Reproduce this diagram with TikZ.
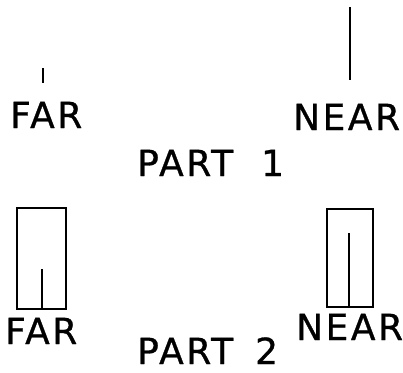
\documentclass[tikz,border=0pt]{standalone}
\usepackage{fontspec}
\setmainfont{DejaVu Sans}[LetterSpace=7,FakeBold=0.8]
\begin{document}
\begin{tikzpicture}[x=1pt,y=-1pt,
  lbl/.style={anchor=base west,inner sep=0pt,text depth=0pt,font=\fontsize{36}{36}\selectfont},
  bar/.style={line width=2.5pt},
  box/.style={line width=2.1pt}]
\useasboundingbox (0,0) rectangle (403,372);
% Part 1
\draw[bar] (43,68) -- (43,83);
\node[lbl] (far1) at (10,128) {FAR};
\draw[bar] (350,7) -- (350,80);
\node[lbl] (near1) at (293,130) {NEAR};
\node[lbl] (part1) at (137,176) {PART\hspace{28pt}1};
% Part 2
\draw[box] (17,208) rectangle (66,309);
\draw[bar] (42,269) -- (42,309);
\node[lbl] (far2) at (5,344) {FAR};
\draw[box] (327,209) rectangle (373,307);
\draw[bar] (349,233) -- (349,307);
\node[lbl] (near2) at (296,340) {NEAR};
\node[lbl] (part2) at (137,364) {PART\hspace{22pt}2};
\end{tikzpicture}
\end{document}
